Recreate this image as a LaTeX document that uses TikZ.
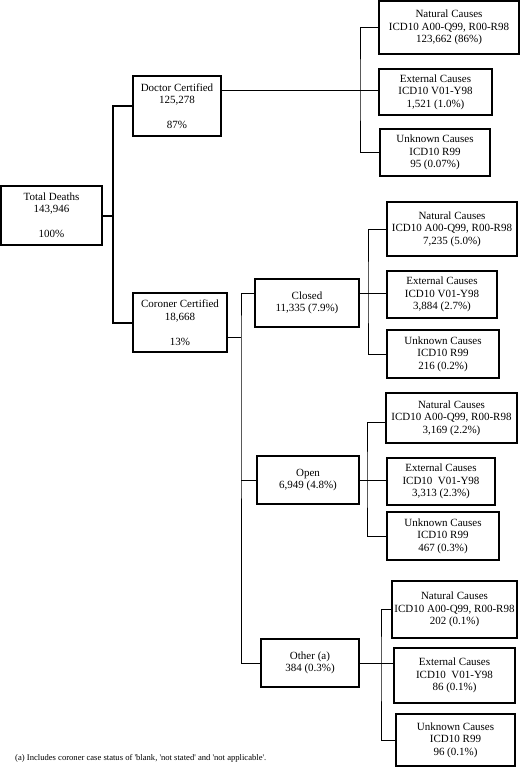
\documentclass[tikz,border=0pt]{standalone}
\usepackage{fontspec}
\setmainfont{Liberation Serif}
\begin{document}
\begin{tikzpicture}[x=1pt,y=-1pt,
  box/.style={draw, line width=1.6pt, inner sep=0pt, outer sep=0pt, align=center,
    font=\fontsize{11}{12.5}\selectfont},
  thin/.style={line width=0.9pt},
  thickline/.style={line width=2pt}]
\useasboundingbox[fill=white] (0,0) rectangle (522,772);
% level 0/1
\node[box, minimum width=101pt, minimum height=59pt] (total) at (51.5,215.5) {Total Deaths\\143,946\\~\\100\%};
\node[box, minimum width=88pt, minimum height=60pt] (doctor) at (177,106) {Doctor Certified\\125,278\\~\\87\%};
\node[box, minimum width=94pt, minimum height=59pt] (coroner) at (180,322.5) {Coroner Certified\\18,668\\~\\13\%};
% doctor children
\node[box, minimum width=140pt, minimum height=53pt] (nat1) at (449,27.5) {Natural Causes\\ICD10 A00-Q99, R00-R98\\123,662 (86\%)};
\node[box, minimum width=113pt, minimum height=46pt] (ext1) at (435.5,92) {External Causes\\ICD10 V01-Y98\\1,521 (1.0\%)};
\node[box, minimum width=110pt, minimum height=47pt] (unk1) at (435,152.5) {Unknown Causes\\ICD10 R99\\95 (0.07\%)};
% coroner children
\node[box, minimum width=104pt, minimum height=48pt] (closed) at (307,303) {Closed\\11,335 (7.9\%)};
\node[box, minimum width=102pt, minimum height=48pt] (open) at (308,480) {Open\\6,949 (4.8\%)};
\node[box, minimum width=98pt, minimum height=48pt] (other) at (310,663) {Other (a)\\384 (0.3\%)};
% closed children
\node[box, minimum width=130pt, minimum height=54pt] (nat2) at (452,229) {Natural Causes\\ICD10 A00-Q99, R00-R98\\7,235 (5.0\%)};
\node[box, minimum width=110pt, minimum height=47pt] (ext2) at (442,294.5) {External Causes\\ICD10 V01-Y98\\3,884 (2.7\%)};
\node[box, minimum width=112pt, minimum height=48pt] (unk2) at (443,354) {Unknown Causes\\ICD10 R99\\216 (0.2\%)};
% open children
\node[box, minimum width=131pt, minimum height=50pt] (nat3) at (451.5,418) {Natural Causes\\ICD10 A00-Q99, R00-R98\\3,169 (2.2\%)};
\node[box, minimum width=108pt, minimum height=47pt] (ext3) at (441,481.5) {External Causes\\ICD10~ V01-Y98\\3,313 (2.3\%)};
\node[box, minimum width=112pt, minimum height=48pt] (unk3) at (443,536) {Unknown Causes\\ICD10 R99\\467 (0.3\%)};
% other children
\node[box, minimum width=125pt, minimum height=57pt] (nat4) at (454.5,609.5) {Natural Causes\\ICD10 A00-Q99, R00-R98\\202 (0.1\%)};
\node[box, minimum width=121pt, minimum height=55pt] (ext4) at (454.5,675.5) {External Causes\\ICD10~ V01-Y98\\86 (0.1\%)};
\node[box, minimum width=119pt, minimum height=52pt] (unk4) at (455.5,740) {Unknown Causes\\ICD10 R99\\96 (0.1\%)};
% footnote
\node[anchor=west, inner sep=0pt, font=\fontsize{8.6}{10}\selectfont] (note) at (15,758) {(a) Includes coroner case status of \textquotesingle blank, \textquotesingle not stated\textquotesingle{} and \textquotesingle not applicable\textquotesingle.};
% junction coordinates
\coordinate (jA) at (113,215.5);
\coordinate (jB) at (360,90);
\coordinate (jC) at (241,337);
\coordinate (jD) at (368,293);
\coordinate (jE) at (367,480);
\coordinate (jF) at (381,663);
\coordinate (closedIn) at ([yshift=10pt]closed.west);
\coordinate (closedOut) at ([yshift=10pt]closed.east);
\coordinate (nat3In) at ([yshift=-4pt]nat3.west);
% connectors
\draw[thickline] (total.east) -- (jA) |- (doctor.west);
\draw[thickline] (jA) |- (coroner.west);
\draw[thin] (doctor.east |- jB) -- (jB);
\draw[thin] (nat1.west) -| (jB) |- (unk1.west);
\draw[thin] (jB) -- (ext1.west |- jB);
\draw[thin] (coroner.east |- jC) -- (jC);
\draw[thin] (closedIn) -| (jC) |- (other.west);
\draw[thin] (jC |- open.west) -- (open.west);
\draw[thin] (closedOut) -- (jD);
\draw[thin] (nat2.west) -| (jD) |- (unk2.west);
\draw[thin] (jD) -- (ext2.west |- jD);
\draw[thin] (open.east) -- (jE);
\draw[thin] (nat3In) -| (jE) |- (unk3.west);
\draw[thin] (jE) -- (ext3.west |- jE);
\draw[thin] (other.east) -- (ext4.west |- other.east);
\draw[thin] (nat4.west) -| (jF) |- (unk4.west);
\end{tikzpicture}
\end{document}
